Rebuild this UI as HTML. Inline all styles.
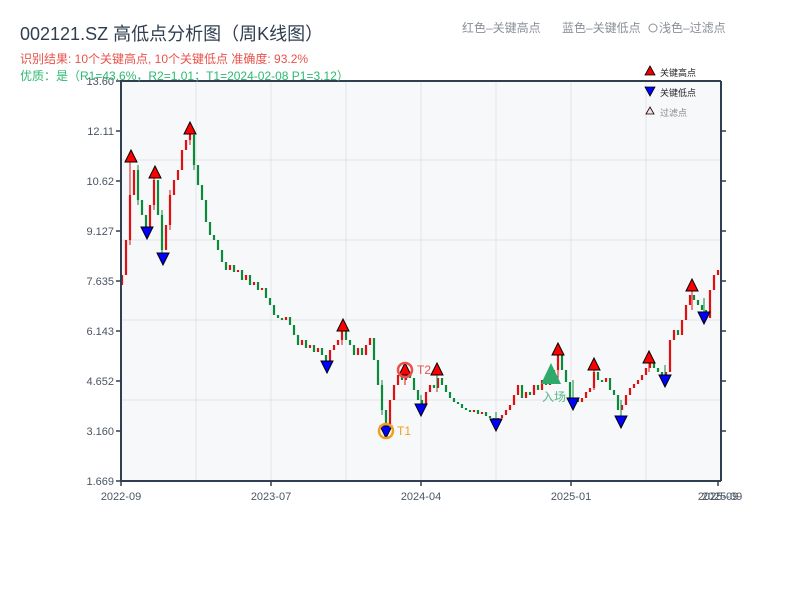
<!DOCTYPE html>
<html><head><meta charset="utf-8"><style>
body{margin:0;background:#fff;width:800px;height:600px;overflow:hidden;font-family:"Liberation Sans","Noto Sans CJK SC",sans-serif}
svg text{font-family:"Liberation Sans","Noto Sans CJK SC",sans-serif}
</style></head><body>
<svg width="800" height="600" xmlns="http://www.w3.org/2000/svg">
<rect x="121" y="81" width="600" height="400" fill="#f6f8fa"/>
<g stroke="#e1e4e8" stroke-width="1">
<line x1="196" y1="81" x2="196" y2="481"/><line x1="271" y1="81" x2="271" y2="481"/><line x1="346" y1="81" x2="346" y2="481"/><line x1="421" y1="81" x2="421" y2="481"/><line x1="496" y1="81" x2="496" y2="481"/><line x1="571" y1="81" x2="571" y2="481"/><line x1="646" y1="81" x2="646" y2="481"/>
<line x1="121" y1="160" x2="721" y2="160"/><line x1="121" y1="240" x2="721" y2="240"/><line x1="121" y1="320" x2="721" y2="320"/><line x1="121" y1="400" x2="721" y2="400"/>
</g>
<path fill="none" stroke="#e01010" stroke-width="2.2" d="M122 275V285 M126 240V275 M130 195V240 M134 170V195 M150 205V228 M154 180V205 M166 225V250 M170 195V225 M174 180V195 M178 170V180 M182 150V170 M186 140V150 M190 128V140 M230 265V270 M238 270V272 M246 275V280 M254 282V285 M262 288V290 M286 317V320 M302 340V345 M310 345V348 M318 348V352 M330 350V362 M334 345V350 M338 340V345 M342 330V340 M358 348V355 M366 345V355 M370 338V345 M390 400V425 M394 385V400 M398 375V385 M406 372V380 M426 392V405 M430 385V392 M438 378V388 M474 410V412 M482 412V414 M498 418V420 M502 415V418 M506 410V415 M510 405V410 M514 395V405 M518 385V395 M526 392V398 M534 385V395 M542 380V390 M550 378V385 M554 370V378 M558 355V370 M582 398V402 M586 392V398 M590 388V392 M594 372V388 M606 378V382 M622 405V410 M626 395V405 M630 388V395 M634 384V388 M638 380V384 M642 375V380 M646 368V375 M650 362V368 M666 372V375 M670 340V372 M674 330V340 M682 320V335 M686 305V320 M690 295V305 M710 290V318 M714 275V290 M718 270V275"/>
<path fill="none" stroke="#e01010" stroke-width="1" d="M130 160V245 M154 178V210 M190 128V145 M342 326V345 M386 410V432 M405 370V385 M437 372V392 M558 350V372 M594 365V390 M649 358V372 M692 286V310 M170 190V230 M558 360V380"/>
<path fill="none" stroke="#0a8a3a" stroke-width="2.2" d="M138 170V200 M142 200V215 M146 215V228 M158 180V215 M162 215V250 M194 135V165 M198 165V185 M202 185V200 M206 200V222 M210 222V235 M214 235V240 M218 240V250 M222 250V262 M226 262V270 M234 265V272 M242 270V280 M250 275V285 M258 282V290 M266 288V298 M270 298V305 M274 305V315 M278 315V318 M282 318V320 M290 317V325 M294 325V335 M298 335V345 M306 340V348 M314 345V352 M322 348V355 M326 355V362 M346 330V340 M350 340V345 M354 345V355 M362 348V355 M374 338V360 M378 360V385 M382 385V410 M386 410V425 M402 375V380 M410 372V378 M414 378V390 M418 390V400 M422 400V405 M434 385V388 M442 378V385 M446 385V392 M450 392V398 M454 398V402 M458 402V404 M462 404V408 M466 408V410 M470 410V412 M478 410V414 M486 412V416 M490 416V418 M494 418V420 M522 385V398 M530 392V395 M538 385V390 M546 380V385 M562 355V370 M566 370V382 M570 382V398 M574 398V400 M578 400V402 M598 372V380 M602 380V382 M610 378V390 M614 390V395 M618 395V410 M654 362V368 M658 368V372 M662 372V375 M678 330V335 M694 295V300 M698 300V305 M702 305V310 M706 310V318"/>
<path fill="none" stroke="#0a8a3a" stroke-width="1" d="M138 165V205 M162 210V258 M194 130V170 M382 380V415 M421 395V410 M437 372V390 M496 412V424 M573 380V403 M621 400V420 M665 365V380 M704 298V318"/>
<g stroke="#2f3e50" stroke-width="2" fill="none">
<line x1="121" y1="80" x2="121" y2="482"/><line x1="120" y1="481" x2="721" y2="481"/><line x1="121" y1="81" x2="721" y2="81"/><line x1="721" y1="81" x2="721" y2="481"/>
</g>
<g stroke="#2f3e50" stroke-width="1.5">
<line x1="116" y1="81" x2="121" y2="81"/><line x1="116" y1="131" x2="121" y2="131"/><line x1="116" y1="181" x2="121" y2="181"/><line x1="116" y1="231" x2="121" y2="231"/><line x1="116" y1="281" x2="121" y2="281"/><line x1="116" y1="331" x2="121" y2="331"/><line x1="116" y1="381" x2="121" y2="381"/><line x1="116" y1="431" x2="121" y2="431"/><line x1="116" y1="481" x2="121" y2="481"/>
<line x1="721" y1="131" x2="726" y2="131"/><line x1="721" y1="181" x2="726" y2="181"/><line x1="721" y1="231" x2="726" y2="231"/><line x1="721" y1="281" x2="726" y2="281"/><line x1="721" y1="331" x2="726" y2="331"/><line x1="721" y1="381" x2="726" y2="381"/><line x1="721" y1="431" x2="726" y2="431"/>
<line x1="121" y1="481" x2="121" y2="486"/><line x1="271" y1="481" x2="271" y2="486"/><line x1="421" y1="481" x2="421" y2="486"/><line x1="571" y1="481" x2="571" y2="486"/><line x1="718" y1="481" x2="718" y2="486"/>
</g>
<g font-size="11" fill="#4a5563" text-anchor="end">
<text x="114" y="85">13.60</text><text x="114" y="135">12.11</text><text x="114" y="185">10.62</text><text x="114" y="235">9.127</text><text x="114" y="285">7.635</text><text x="114" y="335">6.143</text><text x="114" y="385">4.652</text><text x="114" y="435">3.160</text><text x="114" y="485">1.669</text>
</g>
<g font-size="11" fill="#4a5563" text-anchor="middle">
<text x="121" y="500">2022-09</text><text x="271" y="500">2023-07</text><text x="421" y="500">2024-04</text><text x="571" y="500">2025-01</text><text x="718" y="500">2025-09</text><text x="722" y="500">2025-09</text>
</g>
<g fill="#f00" stroke="#000" stroke-width="1">
<polygon points="131,150 137,162 125,162"/><polygon points="155,166 161,178 149,178"/><polygon points="190,122 196,134 184,134"/><polygon points="343,319 349,331 337,331"/><polygon points="405,363 411,375 399,375"/><polygon points="437,363 443,375 431,375"/><polygon points="558,343 564,355 552,355"/><polygon points="594,358 600,370 588,370"/><polygon points="649,351 655,363 643,363"/><polygon points="692,279 698,291 686,291"/>
</g>
<g fill="#00f" stroke="#000" stroke-width="1">
<polygon points="141,227 153,227 147,239"/><polygon points="157,253 169,253 163,265"/><polygon points="321,361 333,361 327,373"/><polygon points="380,426 392,426 386,438"/><polygon points="415,404 427,404 421,416"/><polygon points="490,419 502,419 496,431"/><polygon points="567,398 579,398 573,410"/><polygon points="615,416 627,416 621,428"/><polygon points="659,375 671,375 665,387"/><polygon points="698,312 710,312 704,324"/>
</g>
<circle cx="386" cy="431" r="7" fill="none" stroke="#f0a020" stroke-width="2.5"/><text x="397" y="435" font-size="12" fill="#f0a020">T1</text>
<circle cx="405" cy="370" r="7" fill="none" stroke="#e8524a" stroke-width="2.5"/><text x="417" y="374" font-size="12" fill="#e8524a">T2</text>
<polygon points="551,363 561,384 541,384" fill="#2eaa6a"/><text x="542" y="401" font-size="12" fill="#2eaa6a" opacity="0.8">入场</text>
<text x="20" y="40" font-size="18" fill="#2f3e50">002121.SZ 高低点分析图（周K线图）</text>
<text x="20" y="63" font-size="12" fill="#e8524a">识别结果: 10个关键高点, 10个关键低点   准确度: 93.2%</text>
<text x="20" y="80" font-size="12" fill="#2eb872">优质：是（R1=43.6%，R2=1.01；T1=2024-02-08 P1=3.12）</text>
<text x="462" y="32" font-size="12" fill="#8a8f98">红色–关键高点</text>
<text x="562" y="32" font-size="12" fill="#8a8f98">蓝色–关键低点</text>
<circle cx="653" cy="28" r="4" fill="none" stroke="#8a8f98"/>
<text x="659" y="32" font-size="12" fill="#8a8f98">浅色–过滤点</text>
<polygon points="650,66 655,75 645,75" fill="#e00" stroke="#000" stroke-width="0.8"/>
<text x="660" y="76" font-size="9" fill="#222">关键高点</text>
<polygon points="645,87 655,87 650,96" fill="#00f" stroke="#000" stroke-width="0.8"/>
<text x="660" y="96" font-size="9" fill="#222">关键低点</text>
<polygon points="650,107 654,114 646,114" fill="#fdd" stroke="#000" stroke-width="0.8"/>
<text x="660" y="116" font-size="9" fill="#888">过滤点</text>
</svg>
</body></html>
